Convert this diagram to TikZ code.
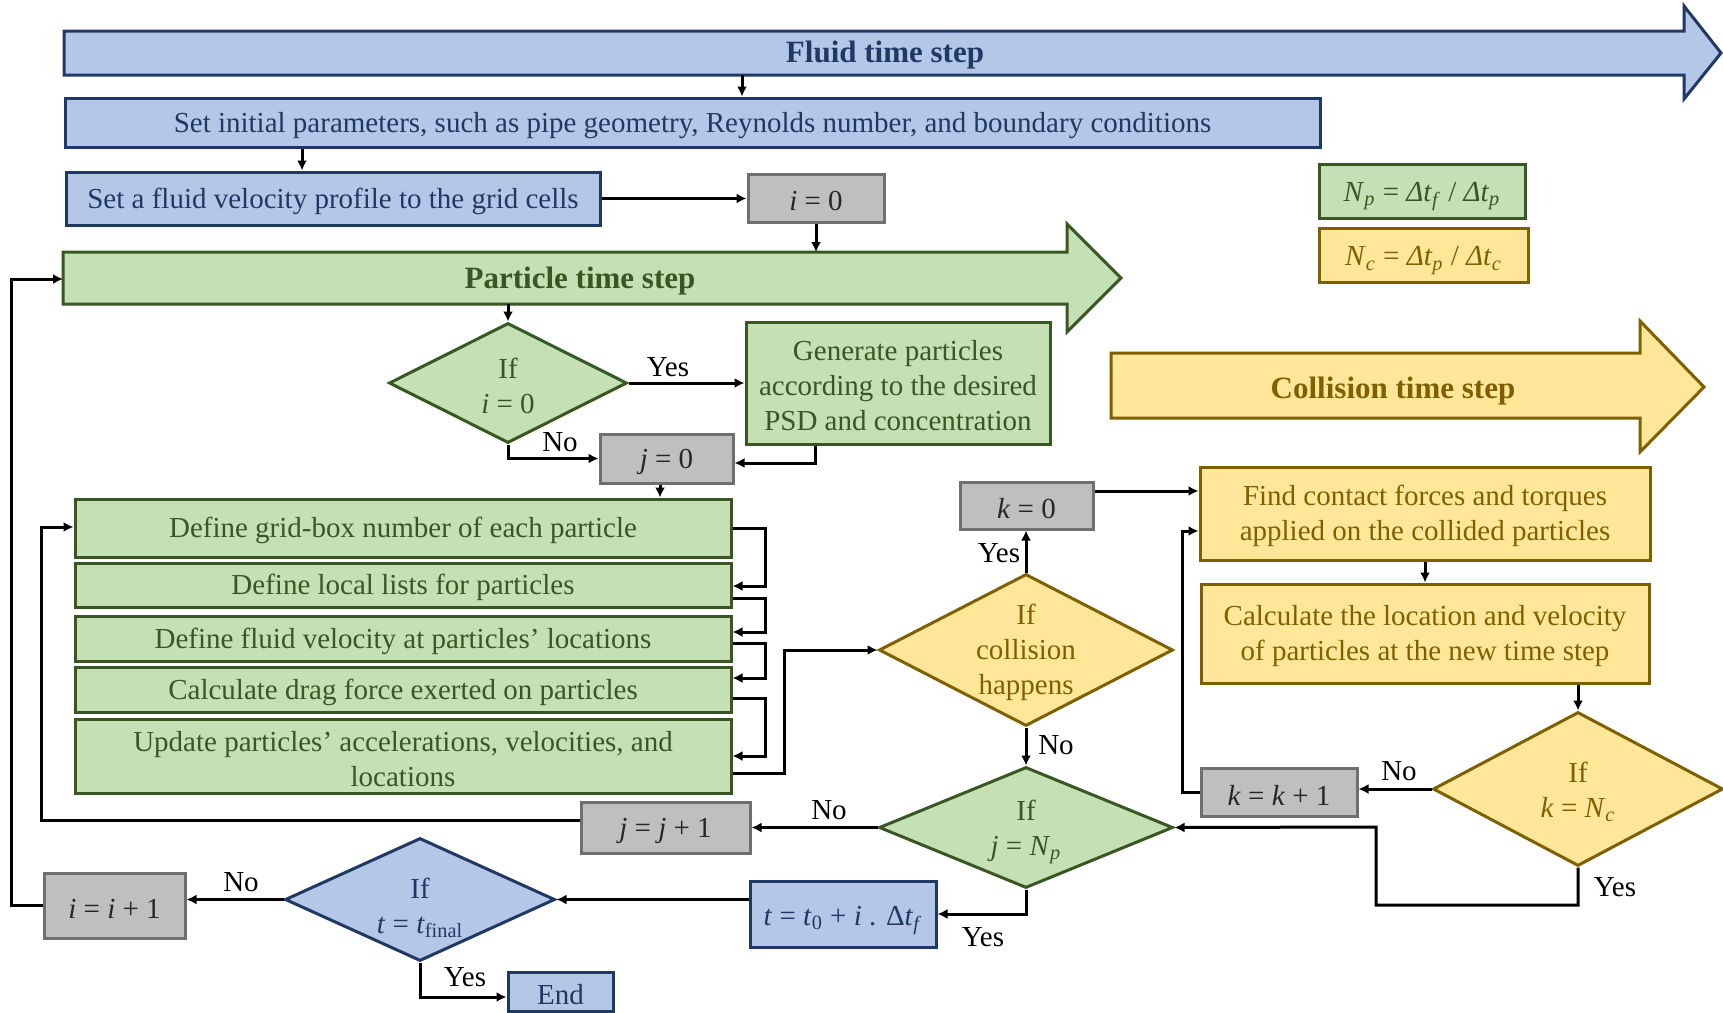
\documentclass[tikz,border=0pt]{standalone}
\usepackage{fontspec}
\setmainfont{Liberation Serif}
\usetikzlibrary{arrows.meta,shapes.geometric}
\definecolor{bfill}{HTML}{B4C7E7}
\definecolor{bline}{HTML}{1F3864}
\definecolor{gfill}{HTML}{C5E0B4}
\definecolor{gline}{HTML}{385723}
\definecolor{yfill}{HTML}{FFE699}
\definecolor{yline}{HTML}{7F6000}
\definecolor{kfill}{HTML}{BFBFBF}
\definecolor{kline}{HTML}{6F6F6F}
\definecolor{ktext}{HTML}{262626}
\newcommand\fs{\fontsize{14.5}{17.5}\selectfont}
\newcommand\fbig{\fontsize{15.5}{18}\selectfont\bfseries}
\newcommand\sub[1]{\textsubscript{#1}}
\newcommand\bx[7]{\node[#2, minimum width={(#5-#3)*0.5pt}, minimum height={(#6-#4)*0.5pt}] (#1) at ({(#3+#5)/2},{(#4+#6)/2}) {\rule{0pt}{13pt}#7};}
\newcommand\dm[6]{\node[#2, diamond, minimum width={(#5-#3)*0.5pt}, minimum height={(#6-#4)*0.5pt}] (#1) at ({(#3+#5)/2},{(#4+#6)/2}) {};}
\begin{document}
\begin{tikzpicture}[x=0.5pt,y=-0.5pt,
  base/.style={draw, line width=1.5pt, inner sep=0pt, align=center, font=\fs},
  bluebox/.style={base, fill=bfill, draw=bline, text=bline},
  greenbox/.style={base, fill=gfill, draw=gline, text=gline},
  yellowbox/.style={base, fill=yfill, draw=yline, text=yline},
  graybox/.style={base, fill=kfill, draw=kline, text=ktext},
  blued/.style={draw=bline, fill=bfill, line width=1.5pt, inner sep=0pt},
  greend/.style={draw=gline, fill=gfill, line width=1.5pt, inner sep=0pt},
  yellowd/.style={draw=yline, fill=yfill, line width=1.5pt, inner sep=0pt},
  dtext/.style={align=center, font=\fs, inner sep=0pt},
  bar/.style={line width=1.5pt},
  title/.style={font=\fbig, inner sep=0pt},
  arr/.style={line width=1.5pt, -{Latex[length=5pt,width=5pt]}},
  lbl/.style={font=\fs, text=black, inner sep=0pt}]
\useasboundingbox (0,0) rectangle (1723,1012);
\fill[white] (0,0) rectangle (1723,1012);

% time-step bars
\draw[bar, draw=bline, fill=bfill] (64,31) -- (1684,31) -- (1684,6) -- (1721,53) -- (1684,99) -- (1684,75) -- (64,75) -- cycle;
\node[title, text=bline] (fluidt) at (885,55) {Fluid time step};
\draw[bar, draw=gline, fill=gfill] (63,252) -- (1067,252) -- (1067,224) -- (1121,278) -- (1067,332) -- (1067,304) -- (63,304) -- cycle;
\node[title, text=gline] (partt) at (580,281) {Particle time step};
\draw[bar, draw=yline, fill=yfill] (1111,353) -- (1640,353) -- (1640,321) -- (1704,387) -- (1640,452) -- (1640,418) -- (1111,418) -- cycle;
\node[title, text=yline] (collt) at (1393,391) {Collision time step};
\coordinate (fluidb) at (742,75);
\coordinate (pbt) at (816,252);
\coordinate (pbl) at (63,279);
\coordinate (pbb) at (508,304);

% boxes
\bx{init}{bluebox}{65}{98}{1320}{147}{Set initial parameters, such as pipe geometry, Reynolds number, and boundary conditions}
\bx{vel}{bluebox}{66}{172}{600}{225}{Set a fluid velocity profile to the grid cells}
\bx{i0}{graybox}{748}{174}{884}{222}{\textit{i} = 0}
\bx{np}{greenbox}{1319}{164}{1525}{218}{\raisebox{-2pt}{\textit{N}\sub{\textit{p}} = \textit{Δt}\sub{\textit{f}} / \textit{Δt}\sub{\textit{p}}}}
\bx{nc}{yellowbox}{1319}{228}{1528}{282}{\raisebox{-2pt}{\textit{N}\sub{\textit{c}} = \textit{Δt}\sub{\textit{p}} / \textit{Δt}\sub{\textit{c}}}}
\dm{d1}{greend}{389}{323}{627}{443}
\node[dtext, text=gline] (d1t) at (508,386) {If\\\textit{i} = 0};
\bx{gen}{greenbox}{746}{322}{1050}{444}{Generate particles\\according to the desired\\PSD and concentration}
\bx{j0}{graybox}{600}{434}{733}{483}{\textit{j} = 0}
\bx{b1}{greenbox}{75}{499}{731}{557}{Define grid-box number of each particle}
\bx{b2}{greenbox}{75}{563}{731}{607}{Define local lists for particles}
\bx{b3}{greenbox}{75}{616}{731}{661}{Define fluid velocity at particles’ locations}
\bx{b4}{greenbox}{75}{667}{731}{712}{Calculate drag force exerted on particles}
\bx{b5}{greenbox}{75}{719}{731}{793}{Update particles’ accelerations, velocities, and\\locations}
\dm{cd}{yellowd}{879}{574}{1173}{726}
\node[dtext, text=yline] (cdt) at (1026,652) {If\\collision\\happens};
\bx{k0}{graybox}{960}{482}{1093}{529}{\textit{k} = 0}
\bx{find}{yellowbox}{1200}{467}{1650}{560}{Find contact forces and torques\\applied on the collided particles}
\bx{calc}{yellowbox}{1201}{584}{1649}{683}{Calculate the location and velocity\\of particles at the new time step}
\dm{kn}{yellowd}{1433}{712}{1723}{866}
\node[dtext, text=yline] (knt) at (1578,792) {If\\\textit{k} = \textit{N}\sub{\textit{c}}};
\bx{kk}{graybox}{1201}{768}{1357}{816}{\textit{k} = \textit{k} + 1}
\dm{dj}{greend}{879}{767}{1173}{888}
\node[dtext, text=gline] (djt) at (1026,832) {If\\\textit{j} = \textit{N}\sub{\textit{p}}};
\bx{jj}{graybox}{581}{802}{750}{853}{\textit{j} = \textit{j} + 1}
\bx{tb}{bluebox}{750}{881}{936}{947}{\raisebox{-3pt}{\textit{t} = \textit{t}\sub{0} + \textit{i} . Δ\textit{t}\sub{\textit{f}}}}
\dm{df}{blued}{285}{838}{555}{961}
\node[dtext, text=bline] (dft) at (420,908) {If\\\textit{t} = \textit{t}\sub{final}};
\bx{i1}{graybox}{44}{873}{185}{938}{\textit{i} = \textit{i} + 1}
\bx{end}{bluebox}{508}{972}{613}{1011}{End}

% helper coordinates
\coordinate (lx) at (11,0);
\coordinate (jx) at (41,0);
\coordinate (cx) at (765,0);
\coordinate (ux) at (784,0);
\coordinate (fx) at (1182,0);
\coordinate (yk1) at (1376,905);
\coordinate (yk2) at (1376,827);

% connectors
\draw[arr] (fluidb) -- (fluidb |- init.north);
\draw[arr] (init.south -| 302,0) -- (vel.north -| 302,0);
\draw[arr] (vel.east) -- (vel.east -| i0.west);
\draw[arr] (i0.south) -- (pbt);
\draw[arr] (i1.west) -- (i1.west -| lx) |- (pbl);
\draw[arr] (pbb) -- (d1.north);
\draw[arr] (d1.east) -- (d1.east -| gen.west);
\draw[arr] (d1.south) |- (j0.west);
\draw[arr] (gen.south -| 815,0) |- (j0.east |- 0,463);
\draw[arr] (j0.south -| 660,0) -- (b1.north -| 660,0);
\draw[arr] (b1.east |- 0,528) -- (cx |- 0,528) |- (b2.east |- 0,586);
\draw[arr] (b2.east |- 0,598) -- (cx |- 0,598) |- (b3.east |- 0,632);
\draw[arr] (b3.east |- 0,643) -- (cx |- 0,643) |- (b4.east |- 0,678);
\draw[arr] (b4.east |- 0,698) -- (cx |- 0,698) |- (b5.east |- 0,756);
\draw[arr] (b5.east |- 0,773) -- (ux |- 0,773) |- (cd.west);
\draw[arr] (cd.north) -- (cd.north |- k0.south);
\draw[arr] (k0.east |- 0,491) -- (find.west |- 0,491);
\draw[arr] (find.south) -- (find.south |- calc.north);
\draw[arr] (calc.south -| kn.north) -- (kn.north);
\draw[arr] (kn.west) -- (kn.west -| kk.east);
\draw[arr] (kk.west) -- (kk.west -| fx) |- (find.west |- 0,531);
\draw[arr] (kn.south) |- (yk1) -- (yk2) -- (dj.east);
\draw[arr] (cd.south) -- (dj.north);
\draw[arr] (dj.west) -- (dj.west -| jj.east);
\draw[arr] (jj.west |- 0,820) -- (jx |- 0,820) |- (b1.west |- 0,527);
\draw[arr] (dj.south) |- (tb.east);
\draw[arr] (tb.west |- df.east) -- (df.east);
\draw[arr] (df.west) -- (df.west -| i1.east);
\draw[arr] (df.south) |- (end.west |- 0,997);

% labels
\node[lbl] (l1) at (668,367) {Yes};
\node[lbl] (l2) at (560,442) {No};
\node[lbl] (l3) at (999,553) {Yes};
\node[lbl] (l4) at (1056,745) {No};
\node[lbl] (l5) at (1399,771) {No};
\node[lbl] (l6) at (1615,887) {Yes};
\node[lbl] (l7) at (829,810) {No};
\node[lbl] (l8) at (983,937) {Yes};
\node[lbl] (l9) at (241,882) {No};
\node[lbl] (l10) at (465,977) {Yes};
\end{tikzpicture}
\end{document}
